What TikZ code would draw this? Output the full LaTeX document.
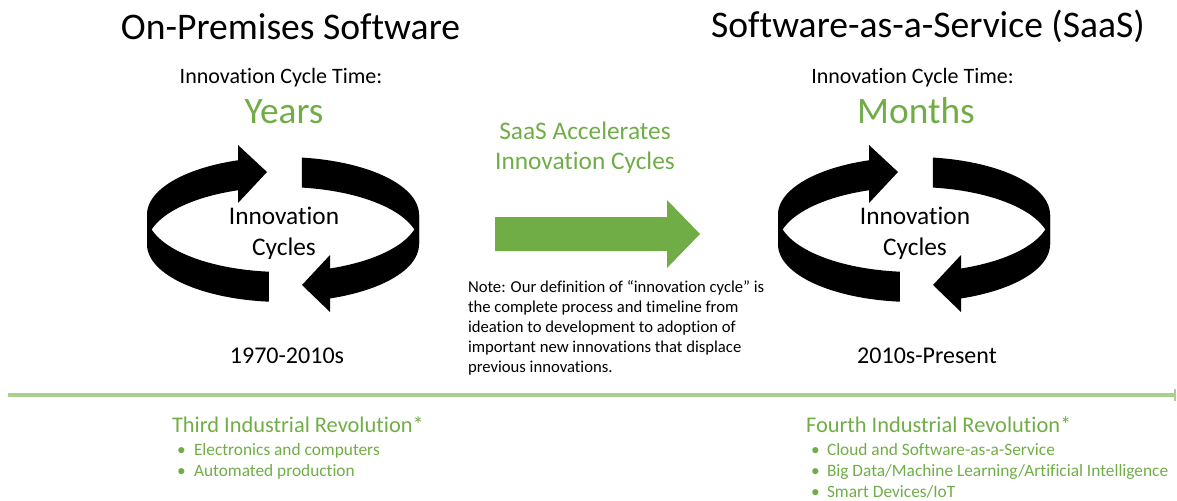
\documentclass[tikz,border=0pt]{standalone}
\usepackage{fontspec}
\setmainfont{Carlito}[Ligatures={NoCommon,NoRare,NoContextual},Contextuals=NoAlternate]
\definecolor{accent}{HTML}{70AD47}
\definecolor{timeline}{HTML}{A9D18E}

\tikzset{
  txt/.style={inner sep=0pt, outer sep=0pt},
  heading/.style={txt, anchor=base, font=\fontsize{28.2}{34}\selectfont},
  cyclelabel/.style={txt, anchor=base, font=\fontsize{16.5}{20}\selectfont},
  period/.style={txt, anchor=base, font=\fontsize{28}{34}\selectfont, text=accent},
  ringtext/.style={txt, anchor=base, font=\fontsize{19}{23}\selectfont},
  eratext/.style={txt, anchor=base, font=\fontsize{18}{22}\selectfont},
  notetext/.style={txt, anchor=north west, align=left, font=\fontsize{12.5}{15}\selectfont},
  revtitle/.style={txt, anchor=base west, font=\fontsize{16.8}{20}\selectfont, text=accent},
  revbullet/.style={txt, anchor=base west, font=\fontsize{13}{16}\selectfont, text=accent},
  % twisted ribbon of two curved arrows
  loopring/.pic={
    \fill plot[domain=96:180,samples=40] ({136*cos(\x)},{57.5*sin(\x)})
      -- plot[domain=180:96,samples=40] ({136*cos(\x)},{30+57.5*sin(\x)}) -- cycle;
    \fill plot[domain=180:252,samples=40] ({136*cos(\x)},{57.5*sin(\x)})
      -- plot[domain=252:180,samples=40] ({136*cos(\x)},{30+57.5*sin(\x)}) -- cycle;
    \fill (-45,-69.5) -- (-16,-42.5) -- (-45,-11.5) -- cycle;
    \fill plot[domain=278:360,samples=40] ({136*cos(\x)},{57.5*sin(\x)})
      -- plot[domain=360:278,samples=40] ({136*cos(\x)},{30+57.5*sin(\x)}) -- cycle;
    \fill plot[domain=0:71,samples=40] ({136*cos(\x)},{57.5*sin(\x)})
      -- plot[domain=71:0,samples=40] ({136*cos(\x)},{30+57.5*sin(\x)}) -- cycle;
    \fill (47,40.5) -- (19,70.5) -- (47,97.5) -- cycle;
  }
}

\begin{document}
\begin{tikzpicture}[x=0.75pt,y=-0.75pt]
\useasboundingbox (0,0) rectangle (1177,500);

% headings
\node[heading] (onprem) at (290.5,39.5) {On-Premises Software};
\node[heading] (saas) at (928,37) {Software-as-a-Service (SaaS)};

\node[cyclelabel] (ictleft) at (281,83.5) {Innovation Cycle Time:};
\node[cyclelabel] (ictright) at (912.5,83.5) {Innovation Cycle Time:};

\node[period] (years) at (284,123.5) {Years};
\node[period] (months) at (916,123.5) {Months};

% innovation cycle rings
\pic at (283,214.5) {loopring};
\pic at (914,214.5) {loopring};

\node[ringtext] (innovl) at (284,224) {Innovation};
\node[ringtext] (cyclesl) at (284,255) {Cycles};
\node[ringtext] (innovr) at (915,224) {Innovation};
\node[ringtext] (cyclesr) at (915,255) {Cycles};

% acceleration arrow
\node[ringtext, text=accent] (accel1) at (585,139) {SaaS Accelerates};
\node[ringtext, text=accent] (accel2) at (585,169) {Innovation Cycles};
\fill[accent] (495,217) -- (667,217) -- (667,200) -- (700,234) -- (667,268)
  -- (667,251) -- (495,251) -- cycle;

\node[notetext] (note) at (468,280) {Note: Our definition of \textquotedblleft innovation cycle\textquotedblright\ is\\
the complete process and timeline from\\
ideation to development to adoption of\\
important new innovations that displace\\
previous innovations.};

\node[eratext] (eraleft) at (287,363) {1970-2010s};
\node[eratext] (eraright) at (927,363) {2010s-Present};

% timeline
\coordinate (tlstart) at (8,395);
\coordinate (tlend) at (1175,395);
\coordinate (tlbartop) at (1175,389);
\coordinate (tlbarbot) at (1175,401);
\draw[timeline, line width=2.6pt] (tlstart) -- (tlend);
\draw[timeline, line width=1.5pt] (tlbartop) -- (tlbarbot);

% industrial revolutions
\node[revtitle] (third) at (172,432) {Third Industrial Revolution*};
\node[revbullet] (tb1) at (177,455) {\textbullet};
\node[revbullet] (tt1) at (194,455) {Electronics and computers};
\node[revbullet] (tb2) at (177,476) {\textbullet};
\node[revbullet] (tt2) at (194,476) {Automated production};

\node[revtitle] (fourth) at (806,432) {Fourth Industrial Revolution*};
\node[revbullet] (fb1) at (811,455) {\textbullet};
\node[revbullet] (ft1) at (827,455) {Cloud and Software-as-a-Service};
\node[revbullet] (fb2) at (811,476) {\textbullet};
\node[revbullet] (ft2) at (827,476) {Big Data/Machine Learning/Artificial Intelligence};
\node[revbullet] (fb3) at (811,497) {\textbullet};
\node[revbullet] (ft3) at (827,497) {Smart Devices/IoT};
\end{tikzpicture}
\end{document}
